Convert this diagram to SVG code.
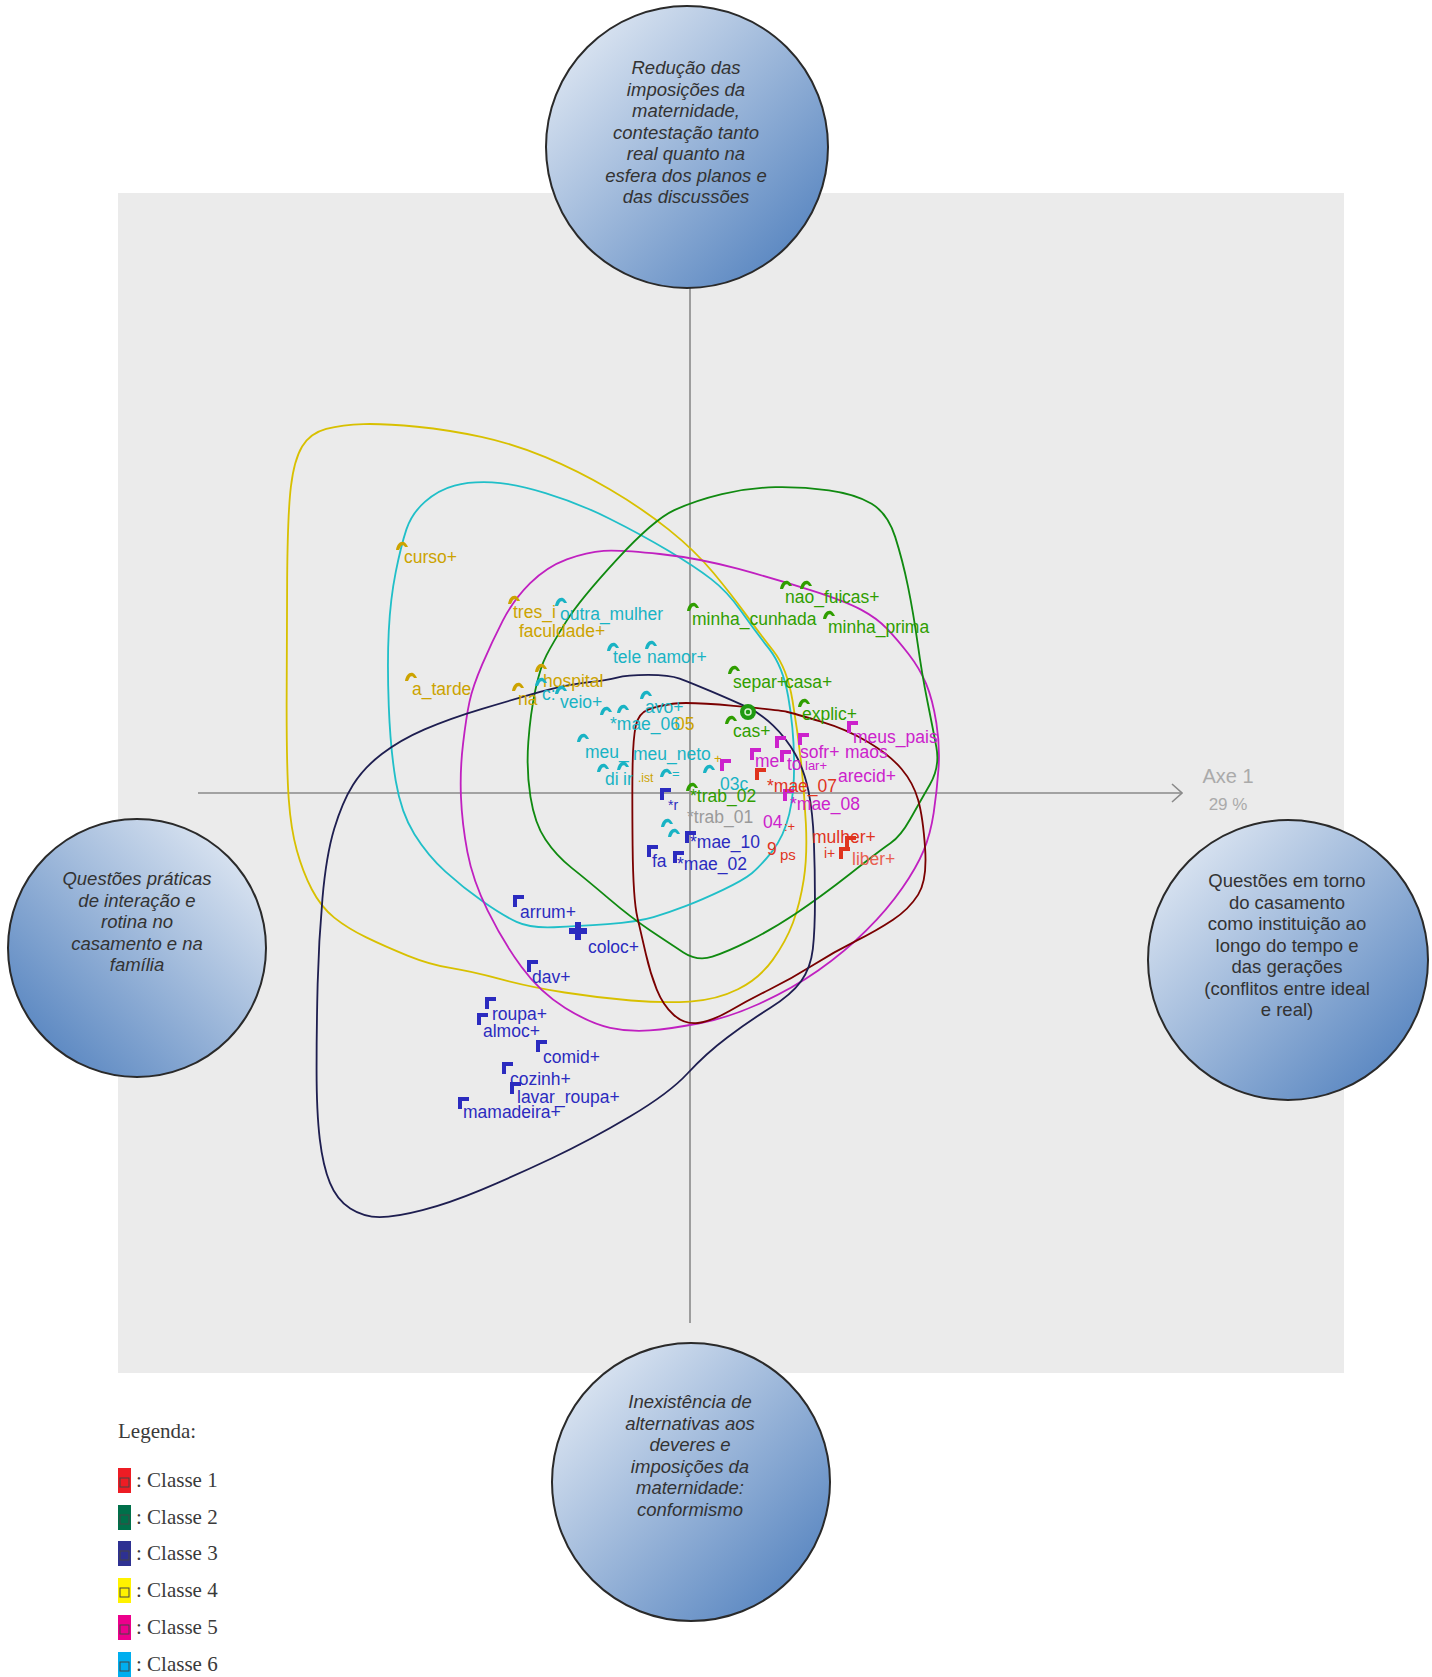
<svg xmlns="http://www.w3.org/2000/svg" width="1432" height="1677" viewBox="0 0 1432 1677">
<style>
.lb{font-family:"Liberation Sans",Arial,sans-serif;font-size:17.5px}
.c1{fill:#e0341e}.c2{fill:#2f9e00}.c3{fill:#2b2bbf}.c4{fill:#cca300}.c5{fill:#cc22cc}.c6{fill:#19b3c4}.cg{fill:#9a9a9a}
.ct{font-family:"Liberation Sans",Arial,sans-serif;font-size:18.5px;fill:#333;text-anchor:middle}
.it{font-style:italic}
.bub{stroke:#2a2a2a;stroke-width:2}
.cont{fill:none;stroke-width:1.7;stroke-linejoin:round}
.leg{font-family:"Liberation Serif","Times New Roman",serif;font-size:21px;fill:#3a3a3a}
.lbox{fill:none;stroke:#444;stroke-width:1}
</style>
<defs>
<linearGradient id="gA" x1="0" y1="0" x2="1" y2="1"><stop offset="0.1" stop-color="#dde6f2"/><stop offset="0.95" stop-color="#4f7fbd"/></linearGradient>
<linearGradient id="gB" x1="1" y1="0" x2="0" y2="1"><stop offset="0.1" stop-color="#dde6f2"/><stop offset="0.95" stop-color="#4f7fbd"/></linearGradient>
<path id="fl" d="M0,0 h11 v4 h-7 v8 h-4 z"/>
<path id="hm" d="M0,9 C1,3 4,0 8,1 C10,2 11,4 12,6 L9,6 C8,4 6,4 5,5 L3,9 Z"/>
<marker id="arr" viewBox="0 0 12 20" refX="11" refY="10" markerWidth="12" markerHeight="20" markerUnits="userSpaceOnUse" orient="auto"><path d="M1,1 L11,10 L1,19" fill="none" stroke="#8a8a8a" stroke-width="1.6"/></marker>
</defs>

<rect x="0" y="0" width="1432" height="1677" fill="#ffffff"/>
<rect id="panel" x="118" y="193" width="1226" height="1180" fill="#ebebeb"/>

<g id="axes" stroke="#8a8a8a" stroke-width="1.6">
<line x1="690" y1="200" x2="690" y2="1323"/>
<line x1="198" y1="793" x2="1182" y2="793" marker-end="url(#arr)"/>
</g>
<g id="axis-label" font-family="Liberation Sans, Arial, sans-serif" fill="#aaaaaa" text-anchor="middle">
<text x="1228" y="783" font-size="20">Axe 1</text>
<text x="1228" y="810" font-size="17">29 %</text>
</g>

<g id="connectors" transform="scale(1.0695)">
<path class="cont" stroke="#d8c000" d="M270,747.5 Q268,720 268,660 Q268,600 268.5,540 Q269,480 272,455 Q275,430 282.5,417.5 Q290,405 305,401 Q320,397 340,396.5 Q360,396 390,399 Q420,402 450,408.5 Q480,415 510,427.5 Q540,440 570,457.5 Q600,475 625,495 Q650,515 667,535.5 Q684,556 697,574 Q710,592 723,608.5 Q736,625 741,655 Q746,685 749,712.5 Q752,740 753.5,770 Q755,800 751.5,822.5 Q748,845 741.5,862.5 Q735,880 722.5,897.5 Q710,915 690,925 Q670,935 645,936.5 Q620,938 590,935.5 Q560,933 528,928 Q496,923 468,915.5 Q440,908 421,905 Q402,902 381,893.5 Q360,885 342.5,876.5 Q325,868 312.5,858 Q300,848 291.5,831.5 Q283,815 277.5,795 Q272,775 270,747.5 Z"/>
<path class="cont" stroke="#20bfc8" d="M370,535 Q375,510 380,495 Q385,480 397.5,469 Q410,458 425,454 Q440,450 460,451 Q480,452 510,461 Q540,470 570,485 Q600,500 625,515 Q650,530 665,541.5 Q680,553 693,571.5 Q706,590 719,606.5 Q732,623 737,651.5 Q742,680 742.5,710 Q743,740 738,761 Q733,782 722,796 Q711,810 703,816.5 Q695,823 676,832 Q657,841 641.5,847 Q626,853 611,857.5 Q596,862 568,864 Q540,866 518,867 Q496,868 483,862 Q470,856 451.5,843 Q433,830 416.5,815 Q400,800 387.5,780 Q375,760 370,730 Q365,700 363.5,660 Q362,620 363.5,590 Q365,560 370,535 Z"/>
<path class="cont" stroke="#c020c0" d="M431,745 Q430,720 433,695 Q436,670 439,656 Q442,642 451,621 Q460,600 470,580.5 Q480,561 495.5,545.5 Q511,530 530,523 Q549,516 564.5,515 Q580,514 617,518 Q654,522 690.5,532 Q727,542 758.5,552 Q790,562 805,570 Q820,578 829.5,588 Q839,598 849.5,611.5 Q860,625 866,639.5 Q872,654 875.5,676 Q879,698 877.5,719 Q876,740 873,760 Q870,780 863.5,795.5 Q857,811 843.5,830.5 Q830,850 810,870 Q790,890 765,907.5 Q740,925 710,938.5 Q680,952 653,957 Q626,962 607.5,963.5 Q589,965 570.5,961 Q552,957 528.5,942.5 Q505,928 487.5,904 Q470,880 456,851.5 Q442,823 437,796.5 Q432,770 431,745 Z"/>
<path class="cont" stroke="#108a10" d="M576.5,523.5 Q611,486 630.5,477 Q650,468 675,462 Q700,456 725,455.5 Q750,455 775,458.5 Q800,462 815,471 Q830,480 837,502 Q844,524 849,548.5 Q854,573 858,601.5 Q862,630 867,655 Q872,680 875.5,698.5 Q879,717 869.5,733.5 Q860,750 851,766 Q842,782 832.5,788.5 Q823,795 795,817 Q767,839 743.5,854.5 Q720,870 700,880 Q680,890 666,894.5 Q652,899 639,890.5 Q626,882 608,870 Q590,858 569.5,840.5 Q549,823 534.5,811.5 Q520,800 510,785 Q500,770 496,745 Q492,720 494,693.5 Q496,667 500.5,645.5 Q505,624 511,612.5 Q517,601 529.5,581 Q542,561 576.5,523.5 Z"/>
<path class="cont" stroke="#7a0000" d="M594.5,678.5 Q597,667 606,663.5 Q615,660 629,658 Q643,656 686,660 Q729,664 735.5,665.5 Q742,667 767,674.5 Q792,682 812,694 Q832,706 843,719 Q854,732 858.5,748 Q863,764 865,793.5 Q867,823 858.5,836.5 Q850,850 835,860 Q820,870 800,880 Q780,890 760,902.5 Q740,915 720,925 Q700,935 682.5,945 Q665,955 652.5,956.5 Q640,958 630,949 Q620,940 614,925 Q608,910 604,892.5 Q600,875 596,858 Q592,841 591.5,791 Q591,741 591.5,715.5 Q592,690 594.5,678.5 Z"/>
<path class="cont" stroke="#1e1e50" d="M357,705 Q374,692 397,682 Q420,672 450,663 Q480,654 505,647 Q530,640 549,638 Q568,636 577,633.5 Q586,631 606,631 Q626,631 635.5,634.5 Q645,638 665,646.5 Q685,655 698,661 Q711,667 723,678.5 Q735,690 743.5,705 Q752,720 756,740 Q760,760 761,786.5 Q762,813 762,841.5 Q762,870 760,887.5 Q758,905 749,917.5 Q740,930 720,942.5 Q700,955 680,970 Q660,985 643,1003.5 Q626,1022 589,1044 Q552,1066 516,1083 Q480,1100 450,1112.5 Q420,1125 395,1131.5 Q370,1138 355,1138 Q340,1138 327.5,1130 Q315,1122 308.5,1106 Q302,1090 299,1065 Q296,1040 296,1000 Q296,960 297,920 Q298,880 301.5,840 Q305,800 312.5,775 Q320,750 330,734 Q340,718 357,705 Z"/>
</g>

<g id="class4-labels" class="lb c4">
<use href="#hm" x="396" y="541"/><text x="404" y="563">curso+</text>
<use href="#hm" x="405" y="672"/><text x="412" y="695">a_tarde</text>
<use href="#hm" x="508" y="595"/><text x="513" y="618">tres_i</text>
<text x="519" y="637">faculdade+</text>
<use href="#hm" x="535" y="663"/><text x="543" y="687">hospital</text>
<use href="#hm" x="512" y="682"/><text x="518" y="705">na</text>
<text x="675" y="730">05</text>
<text x="638" y="782" font-size="12">.ist</text>
<text x="714" y="763" font-size="13">+</text>
</g>

<g id="class6-labels" class="lb c6">
<use href="#hm" x="555" y="597"/><text x="560" y="620">outra_mulher</text>
<use href="#hm" x="607" y="642"/><text x="613" y="663">tele</text>
<use href="#hm" x="645" y="640"/><text x="647" y="663">namor+</text>
<use href="#hm" x="535" y="677"/><text x="542" y="700">c:</text>
<use href="#hm" x="555" y="685"/><text x="560" y="708">veio+</text>
<use href="#hm" x="640" y="690"/><text x="645" y="713">avo+</text>
<use href="#hm" x="600" y="706"/><use href="#hm" x="617" y="704"/><text x="610" y="730">*mae_06</text>
<use href="#hm" x="577" y="733"/><text x="585" y="758">meu_</text>
<text x="633" y="760">meu_neto</text>
<use href="#hm" x="597" y="763"/><text x="605" y="785">di</text>
<use href="#hm" x="617" y="761"/><text x="623" y="785">ir</text>
<use href="#hm" x="660" y="768"/><text x="672" y="778" font-size="13">=</text>
<use href="#hm" x="703" y="764"/>
<text x="720" y="790">03c</text>
<use href="#hm" x="661" y="818"/><use href="#hm" x="668" y="828"/>
</g>

<g id="class2-labels" class="lb c2">
<use href="#hm" x="687" y="602"/><text x="692" y="625">minha_cunhada</text>
<use href="#hm" x="780" y="580"/><use href="#hm" x="800" y="580"/><text x="785" y="603">nao_fui</text><text x="842" y="603">cas+</text>
<use href="#hm" x="823" y="610"/><text x="828" y="633">minha_prima</text>
<use href="#hm" x="728" y="665"/><text x="733" y="688">separ+</text><text x="785" y="688">casa+</text>
<use href="#hm" x="798" y="698"/><text x="802" y="720">explic+</text>
<use href="#hm" x="725" y="715"/><text x="733" y="737">cas+</text>
<circle cx="748" cy="712" r="8" fill="#1f9a10"/><circle cx="748" cy="712" r="3" fill="none" stroke="#d8f0d0" stroke-width="1.5"/>
<use href="#hm" x="686" y="782"/><text x="690" y="802">*trab_02</text>
</g>

<g id="class3-labels" class="lb c3">
<use href="#fl" x="513" y="895"/><text x="520" y="918">arrum+</text>
<path d="M575,922 h6 v6 h6 v6 h-6 v6 h-6 v-6 h-6 v-6 h6 z"/>
<text x="588" y="953">coloc+</text>
<use href="#fl" x="527" y="960"/><text x="532" y="983">dav+</text>
<use href="#fl" x="485" y="997"/><text x="492" y="1020">roupa+</text>
<use href="#fl" x="477" y="1013"/><text x="483" y="1037">almoc+</text>
<use href="#fl" x="536" y="1040"/><text x="543" y="1063">comid+</text>
<use href="#fl" x="502" y="1062"/><text x="510" y="1085">cozinh+</text>
<use href="#fl" x="510" y="1082"/><text x="517" y="1103">lavar_roupa+</text>
<use href="#fl" x="458" y="1097"/><text x="463" y="1118">mamadeira+</text>
<use href="#fl" x="660" y="788"/><text x="668" y="810" font-size="14">*r</text>
<use href="#fl" x="685" y="831"/><text x="690" y="848">*mae_10</text>
<use href="#fl" x="647" y="845"/><text x="652" y="867">fa</text>
<use href="#fl" x="673" y="851"/><text x="677" y="870">*mae_02</text>
</g>

<g id="class0-labels" class="lb cg">
<text x="687" y="823">*trab_01</text>
</g>

<g id="class5-labels" class="lb c5">
<use href="#fl" x="720" y="759"/>
<use href="#fl" x="775" y="736"/><use href="#fl" x="798" y="733"/><text x="800" y="758">sofr+</text><text x="845" y="758">maos</text>
<use href="#fl" x="847" y="721"/><text x="853" y="743">meus_pais</text>
<use href="#fl" x="750" y="748"/><text x="755" y="767">me</text>
<use href="#fl" x="780" y="750"/><text x="787" y="770">to</text><text x="805" y="770" font-size="13">lar+</text>
<text x="838" y="782">arecid+</text>
<use href="#fl" x="783" y="789"/><text x="790" y="810">*mae_08</text>
<text x="763" y="828">04</text>
</g>

<g id="class1-labels" class="lb c1">
<use href="#fl" x="755" y="768"/><text x="767" y="792">*mae_07</text>
<text x="812" y="843">mulher+</text>
<use href="#fl" x="845" y="836"/>
<use href="#fl" x="839" y="847"/><text x="852" y="865" fill="#e86050">liber+</text>
<text x="767" y="855">9</text><text x="780" y="860" font-size="15">ps</text>
<text x="784" y="831" font-size="13">:+</text>
<text x="824" y="858" font-size="14">i+</text>
</g>

<g id="node-top">
<circle class="bub" cx="687" cy="147" r="141" fill="url(#gA)"/>
<text class="ct it"><tspan x="686" y="74">Redução das</tspan><tspan x="686" y="95.5">imposições da</tspan><tspan x="686" y="117">maternidade,</tspan><tspan x="686" y="138.5">contestação tanto</tspan><tspan x="686" y="160">real quanto na</tspan><tspan x="686" y="181.5">esfera dos planos e</tspan><tspan x="686" y="203">das discussões</tspan></text>
</g>
<g id="node-left">
<circle class="bub" cx="137" cy="948" r="129" fill="url(#gB)"/>
<text class="ct it"><tspan x="137" y="885">Questões práticas</tspan><tspan x="137" y="906.5">de interação e</tspan><tspan x="137" y="928">rotina no</tspan><tspan x="137" y="949.5">casamento e na</tspan><tspan x="137" y="971">família</tspan></text>
</g>
<g id="node-right">
<circle class="bub" cx="1288" cy="960" r="140" fill="url(#gA)"/>
<text class="ct"><tspan x="1287" y="887">Questões em torno</tspan><tspan x="1287" y="908.5">do casamento</tspan><tspan x="1287" y="930">como instituição ao</tspan><tspan x="1287" y="951.5">longo do tempo e</tspan><tspan x="1287" y="973">das gerações</tspan><tspan x="1287" y="994.5">(conflitos entre ideal</tspan><tspan x="1287" y="1016">e real)</tspan></text>
</g>
<g id="node-bottom">
<circle class="bub" cx="691" cy="1482" r="139" fill="url(#gA)"/>
<text class="ct it"><tspan x="690" y="1408">Inexistência de</tspan><tspan x="690" y="1429.5">alternativas aos</tspan><tspan x="690" y="1451">deveres e</tspan><tspan x="690" y="1472.5">imposições da</tspan><tspan x="690" y="1494">maternidade:</tspan><tspan x="690" y="1515.5">conformismo</tspan></text>
</g>

<g id="legend">
<text class="leg" x="118" y="1438">Legenda:</text>
<rect x="118" y="1468" width="13" height="25" fill="#ed1c24"/><rect class="lbox" x="120" y="1478" width="9" height="9"/><text class="leg" x="136" y="1487">: Classe 1</text>
<rect x="118" y="1505" width="13" height="25" fill="#00704a"/><rect class="lbox" x="120" y="1515" width="9" height="9"/><text class="leg" x="136" y="1524">: Classe 2</text>
<rect x="118" y="1541" width="13" height="25" fill="#2e3192"/><rect class="lbox" x="120" y="1551" width="9" height="9"/><text class="leg" x="136" y="1560">: Classe 3</text>
<rect x="118" y="1578" width="13" height="25" fill="#fff200"/><rect class="lbox" x="120" y="1588" width="9" height="9"/><text class="leg" x="136" y="1597">: Classe 4</text>
<rect x="118" y="1615" width="13" height="25" fill="#ec008c"/><rect class="lbox" x="120" y="1625" width="9" height="9"/><text class="leg" x="136" y="1634">: Classe 5</text>
<rect x="118" y="1652" width="13" height="25" fill="#00aeef"/><rect class="lbox" x="120" y="1662" width="9" height="9"/><text class="leg" x="136" y="1671">: Classe 6</text>
</g>
</svg>
